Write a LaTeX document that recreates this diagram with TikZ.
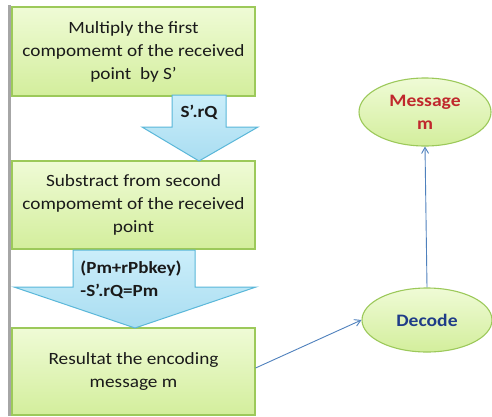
\documentclass[tikz,border=0pt]{standalone}
\usepackage{fontspec}
\setmainfont{Carlito}[FakeStretch=1.12]
\usetikzlibrary{arrows.meta,shapes.geometric}
\definecolor{boxline}{HTML}{9CC95A}
\definecolor{boxtop}{HTML}{EFFBD6}
\definecolor{boxbot}{HTML}{D3EE9C}
\definecolor{arrline}{HTML}{5AB7D9}
\definecolor{arrtop}{HTML}{CBEEFA}
\definecolor{arrbot}{HTML}{A9DDF1}
\definecolor{conn}{HTML}{4F81BD}
\definecolor{msgred}{HTML}{C0282D}
\definecolor{decblue}{HTML}{1F3C88}
\definecolor{txt}{HTML}{1A1A1A}
\tikzset{
  stepbox/.style={draw=boxline, line width=1.1pt, top color=boxtop, bottom color=boxbot,
    minimum width=243pt, align=center, text=txt, inner sep=0pt,
    font=\fontsize{17.2}{23}\selectfont},
  blockarrow/.style={draw=arrline, line width=1pt, top color=arrtop, bottom color=arrbot},
  arrlabel/.style={font=\fontsize{17}{23}\selectfont\bfseries, text=txt, inner sep=0pt},
  oval/.style={ellipse, draw=boxline, line width=1.1pt, top color=boxtop, bottom color=boxbot,
    inner sep=0pt, align=center, font=\fontsize{17.5}{23}\selectfont\bfseries},
  link/.style={draw=conn, line width=0.9pt, -{Straight Barb[length=6pt,width=7pt]}}
}
\begin{document}
\begin{tikzpicture}[x=1pt,y=-1pt]
\useasboundingbox (0,0) rectangle (492,416);
\fill[white] (0,0) rectangle (492,416);
% left grey rule
\fill[gray!70] (8,5) rectangle (11,416);
% boxes
\node[stepbox, minimum height=89pt] (b1) at (133.5,51.5) {Multiply the first\\compomemt of the received\\point\ \ by S’};
\node[stepbox, minimum height=88pt] (b2) at (133.5,205) {Substract from second\\compomemt of the received\\point};
\node[stepbox, minimum height=87pt] (b3) at (133.5,371.5) {Resultat the encoding\\message m};
% block arrows
\path[blockarrow] (172,95) -- (226,95) -- (226,127) -- (258,127) -- (199,161) -- (142,127) -- (172,127) -- cycle;
\node[arrlabel] (l1) at (199,112) {S’.rQ};
\path[blockarrow] (73,250) -- (195,250) -- (195,287) -- (256,287) -- (135,328) -- (14,287) -- (73,287) -- cycle;
\node[arrlabel, align=left] (l2) at (131,280) {(Pm+rPbkey)\\-S’.rQ=Pm};
% ellipses
\node[oval, minimum width=132pt, minimum height=68pt, text=msgred] (msg) at (425,112) {Message\\m};
\node[oval, minimum width=130pt, minimum height=64pt, text=decblue] (dec) at (427,320) {Decode};
% connectors
\draw[link] (b3.east) ++(0,-3.5) coordinate (s3) -- (dec.west);
\draw[link] (dec.north) -- (msg.south);
\end{tikzpicture}
\end{document}
